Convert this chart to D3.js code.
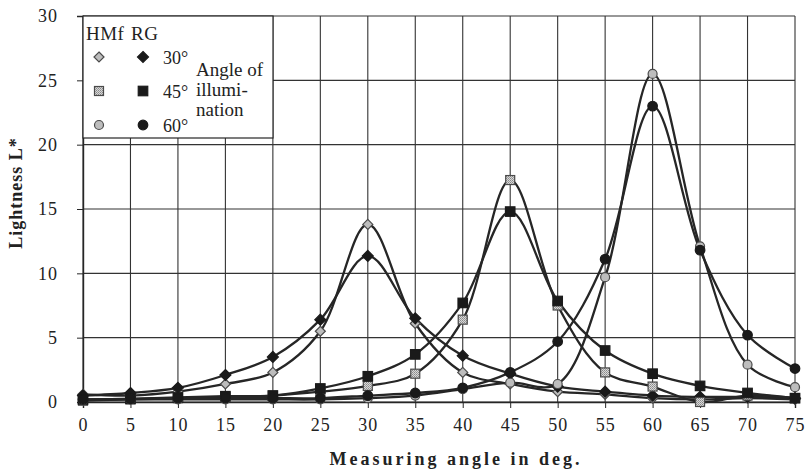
<!DOCTYPE html>
<html>
<head>
<meta charset="utf-8">
<script src="https://cdn.jsdelivr.net/npm/d3@7"></script>
<style>
  html, body { margin: 0; padding: 0; background: #fff; }
  svg text { font-family: "Liberation Serif", "Times New Roman", serif; fill: #222; }
</style>
</head>
<body>
<div id="chart"></div>
<script>
// data
const angles = [0, 5, 10, 15, 20, 25, 30, 35, 40, 45, 50, 55, 60, 65, 70, 75];

const hmf30 = [0.6, 0.5, 0.8, 1.4, 2.3, 5.5, 13.8, 6.1, 2.3, 1.4, 0.8, 0.6, 0.3, 0.2, 0.3, 0.2];
const rg30  = [0.5, 0.7, 1.1, 2.1, 3.5, 6.4, 11.35, 6.5, 3.6, 2.2, 1.2, 0.8, 0.5, 0.4, 0.4, 0.3];
const hmf45 = [0.1, 0.2, 0.3, 0.4, 0.5, 0.8, 1.25, 2.2, 6.4, 17.25, 7.5, 2.3, 1.2, 0.0, 0.5, 0.3];
const rg45  = [0.2, 0.25, 0.35, 0.45, 0.5, 1.05, 2.0, 3.7, 7.7, 14.8, 7.85, 4.0, 2.2, 1.25, 0.7, 0.3];
const hmf60 = [0.15, 0.2, 0.2, 0.2, 0.2, 0.2, 0.3, 0.5, 1.0, 1.5, 1.4, 9.7, 25.5, 12.1, 2.9, 1.15];
const rg60  = [0.2, 0.25, 0.3, 0.3, 0.3, 0.3, 0.5, 0.7, 1.1, 2.3, 4.7, 11.1, 23.0, 11.8, 5.2, 2.6];

const xTicks = [0, 5, 10, 15, 20, 25, 30, 35, 40, 45, 50, 55, 60, 65, 70, 75];
const yTicks = [0, 5, 10, 15, 20, 25, 30];

const seriesList = [
  { name: "HMf 30", values: hmf30, shape: "diamond", filled: false },
  { name: "RG 30",  values: rg30,  shape: "diamond", filled: true },
  { name: "HMf 45", values: hmf45, shape: "square",  filled: false },
  { name: "RG 45",  values: rg45,  shape: "square",  filled: true },
  { name: "HMf 60", values: hmf60, shape: "circle",  filled: false },
  { name: "RG 60",  values: rg60,  shape: "circle",  filled: true }
];

const width = 811;
const height = 471;
const plot = { left: 83, right: 795, top: 16, bottom: 402 };
const ink = "#262626";

const x = d3.scaleLinear().domain([0, 75]).range([plot.left, plot.right]);
const y = d3.scaleLinear().domain([0, 30]).range([plot.bottom, plot.top]);

const svg = d3.select("#chart")
  .append("svg")
  .attr("width", width)
  .attr("height", height);

// hatch for the grey squares
const defs = svg.append("defs");
const pat = defs.append("pattern")
  .attr("id", "hatch")
  .attr("width", 2)
  .attr("height", 2)
  .attr("patternUnits", "userSpaceOnUse");
pat.append("rect").attr("width", 2).attr("height", 2).attr("fill", "#d8d8d8");
pat.append("rect").attr("width", 1).attr("height", 1).attr("fill", "#8a8a8a");
pat.append("rect").attr("x", 1).attr("y", 1).attr("width", 1).attr("height", 1).attr("fill", "#a0a0a0");

// =====================
// GRID
// =====================
const grid = svg.append("g");

grid.selectAll(".vgrid")
  .data(xTicks)
  .join("line")
  .attr("x1", d => x(d)).attr("x2", d => x(d))
  .attr("y1", plot.top).attr("y2", plot.bottom)
  .attr("stroke", "#333").attr("stroke-width", 1.1);

grid.selectAll(".hgrid")
  .data(yTicks)
  .join("line")
  .attr("x1", plot.left).attr("x2", plot.right)
  .attr("y1", d => y(d)).attr("y2", d => y(d))
  .attr("stroke", "#333").attr("stroke-width", 1.1);

// Axes
const xAxis = d3.axisBottom(x).tickValues(xTicks).tickSize(6).tickPadding(10);
const yAxis = d3.axisLeft(y).tickValues(yTicks).tickSize(6).tickPadding(19);

const gx = svg.append("g")
  .attr("transform", `translate(0,${plot.bottom})`)
  .call(xAxis);
const gy = svg.append("g")
  .attr("transform", `translate(${plot.left},0)`)
  .call(yAxis);

[gx, gy].forEach(g => {
  g.select(".domain").attr("stroke", ink).attr("stroke-width", 1.4);
  g.selectAll(".tick line").attr("stroke", ink);
  g.selectAll(".tick text")
    .attr("fill", "#222")
    .style("font-family", "'Liberation Serif', serif")
    .style("font-size", "18px")
    .style("letter-spacing", "1px");
});

svg.append("text")
  .attr("x", 456)
  .attr("y", 465)
  .attr("text-anchor", "middle")
  .style("font-size", "18px")
  .style("font-weight", "bold")
  .style("letter-spacing", "3px")
  .text("Measuring angle in deg.");

svg.append("text")
  .attr("transform", "translate(22,193) rotate(-90)")
  .attr("text-anchor", "middle")
  .style("font-size", "18px")
  .style("font-weight", "bold")
  .style("letter-spacing", "1px")
  .text("Lightness L*");

// =====================
// LINES
// =====================
const line = d3.line()
  .x((d, i) => x(angles[i]))
  .y(d => y(d))
  .curve(d3.curveCatmullRom.alpha(0.5));

svg.append("g")
  .selectAll("path")
  .data(seriesList)
  .join("path")
  .attr("d", d => line(d.values))
  .attr("fill", "none")
  .attr("stroke", ink)
  .attr("stroke-width", 2.3);

// =====================
// MARKERS
// =====================
function drawMarker(g, shape, filled, cx, cy) {
  const fill = filled ? "#1a1a1a" : (shape === "square" ? "url(#hatch)" : "#bdbdbd");
  const stroke = filled ? "#1a1a1a" : "#4a4a4a";
  if (shape === "diamond") {
    const r = filled ? 5.5 : 5;
    g.append("path")
      .attr("d", `M${cx},${cy - r}L${cx + r},${cy}L${cx},${cy + r}L${cx - r},${cy}Z`)
      .attr("fill", fill).attr("stroke", stroke).attr("stroke-width", 1.2);
  } else if (shape === "square") {
    const s = filled ? 9.5 : 9;
    g.append("rect")
      .attr("x", cx - s / 2).attr("y", cy - s / 2)
      .attr("width", s).attr("height", s)
      .attr("fill", fill).attr("stroke", stroke).attr("stroke-width", 1.2);
  } else {
    g.append("circle")
      .attr("cx", cx).attr("cy", cy).attr("r", filled ? 4.8 : 4.5)
      .attr("fill", fill).attr("stroke", stroke).attr("stroke-width", 1.2);
  }
}

const markers = svg.append("g");
seriesList.forEach(s => {
  s.values.forEach((v, i) => drawMarker(markers, s.shape, s.filled, x(angles[i]), y(v)));
});

// =====================
// LEGEND
// =====================
const legend = svg.append("g");
legend.append("rect")
  .attr("x", plot.left).attr("y", plot.top)
  .attr("width", 190).attr("height", 122)
  .attr("fill", "#fff").attr("stroke", ink).attr("stroke-width", 1.2);

legend.append("text").attr("x", 86).attr("y", 40).style("font-size", "19px").style("letter-spacing", "0.5px").text("HMf");
legend.append("text").attr("x", 131).attr("y", 40).style("font-size", "19px").style("letter-spacing", "0.5px").text("RG");

const legendRows = [
  { label: "30°", shape: "diamond", cy: 57 },
  { label: "45°", shape: "square", cy: 91 },
  { label: "60°", shape: "circle", cy: 125 }
];
legendRows.forEach(r => {
  drawMarker(legend, r.shape, false, 99, r.cy);
  drawMarker(legend, r.shape, true, 143, r.cy);
  legend.append("text")
    .attr("x", 163).attr("y", r.cy + 7)
    .style("font-size", "18px")
    .text(r.label);
});

["Angle of", "illumi-", "nation"].forEach((t, i) => {
  legend.append("text")
    .attr("x", 196).attr("y", 76 + i * 20)
    .style("font-size", "19px")
    .text(t);
});
</script>
</body>
</html>
